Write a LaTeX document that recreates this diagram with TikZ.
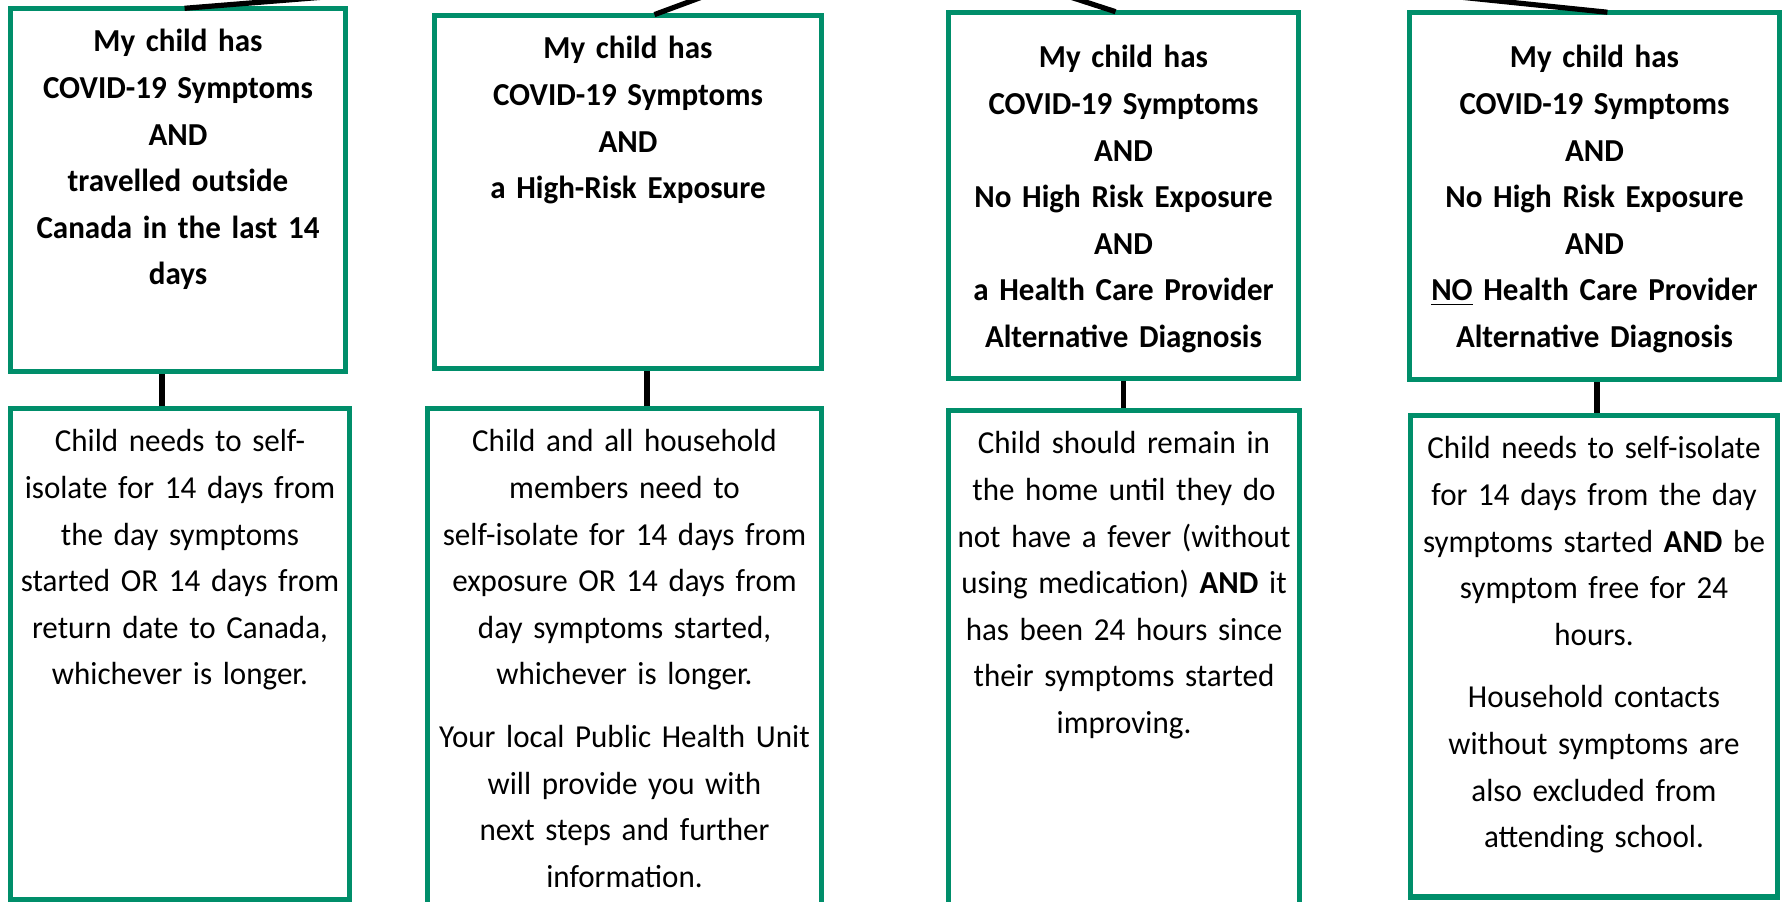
\documentclass[tikz,border=0pt]{standalone}
\usepackage{fontspec}
\setmainfont{Carlito}[FakeStretch=0.97]
\usepackage{tikz}
\usepackage{xcolor}
\definecolor{boxgreen}{RGB}{0,142,106}

\begin{document}
\begin{tikzpicture}[x=0.5pt,y=-0.5pt,
		box/.style={draw=boxgreen, line width=2.6pt, fill=white, anchor=north west, outer sep=0pt,
			inner xsep=0pt, inner ysep=8pt, align=center, text height=13.7pt,
			font=\fontsize{16pt}{23.3pt}\selectfont},
		cond/.style={box, font=\fontsize{16pt}{23.3pt}\selectfont\bfseries},
		link/.style={draw=black, line width=2.6pt, shorten <=1.3pt, shorten >=1.3pt}]
		\useasboundingbox (0,0) rectangle (1782,901);
		\clip (0,0) rectangle (1782,901); % Clips the picture to the page

		% Free ends of the lines coming from above
		\coordinate (Up1) at (536,-20);
		\coordinate (Up2) at (748,-20);
		\coordinate (Up3) at (1018,-20);
		\coordinate (Up4) at (1294,-20);

		% Conditions
		\node[cond, text width=167.5pt, text depth=151.8pt] (travel) at (10.5,8.5)
			{My child has\\ COVID-19 Symptoms\\ AND\\ travelled outside\\ Canada in the last 14\\ days};
		\node[cond, text width=193.5pt, text depth=146.8pt] (exposure) at (434.5,15.5)
			{My child has\\ COVID-19 Symptoms\\ AND\\ a High-Risk Exposure};
		\node[cond, text width=175pt, text height=19.7pt, text depth=147.3pt] (diagnosis) at (948.5,12.5)
			{My child has\\ COVID-19 Symptoms\\ AND\\ No High Risk Exposure\\ AND\\ a Health Care Provider\\ Alternative Diagnosis};
		\node[cond, text width=185pt, text height=19.7pt, text depth=147.8pt] (nodiagnosis) at (1409.5,12.5)
			{My child has\\ COVID-19 Symptoms\\ AND\\ No High Risk Exposure\\ AND\\ \underline{NO} Health Care Provider\\ Alternative Diagnosis};

		% What to do
		\node[box, text width=169.5pt, text depth=215.8pt] (isolate) at (10.5,408.5)
			{Child needs to self-\\ isolate for 14 days from\\ the day symptoms\\ started OR 14 days from\\ return date to Canada,\\ whichever is longer.};
		\node[box, text width=197pt, text depth=230.3pt] (household) at (427.5,408.5)
			{Child and all household\\ members need to\\ self-isolate for 14 days from\\ exposure OR 14 days from\\ day symptoms started,\\ whichever is longer.\\[8pt]
			Your local Public Health Unit\\ will provide you with\\ next steps and further\\ information.};
		\node[box, text width=175.5pt, text depth=230.3pt] (remain) at (948.5,410.5)
			{Child should remain in\\ the home until they do\\ not have a fever (without\\ using medication) \textbf{AND} it\\ has been 24 hours since\\ their symptoms started\\ improving.};
		\node[box, text width=183.5pt, text depth=211.05pt] (excluded) at (1410.5,415.5)
			{Child needs to self-isolate\\ for 14 days from the day\\ symptoms started \textbf{AND} be\\ symptom free for 24\\ hours.\\[8pt]
			Household contacts\\ without symptoms are\\ also excluded from\\ attending school.};

		\draw[link] ([xshift=2pt]travel.north) -- (Up1);
		\draw[link] ([xshift=12pt]exposure.north) -- (Up2);
		\draw[link] ([xshift=-2.75pt]diagnosis.north) -- (Up3);
		\draw[link] ([xshift=7.75pt]nodiagnosis.north) -- (Up4);

		\draw[link] ([xshift=-8pt]travel.south) -- ([xshift=-8pt]travel.south |- isolate.north);
		\draw[link] ([xshift=9.5pt]exposure.south) -- ([xshift=9.5pt]exposure.south |- household.north);
		\draw[link] (diagnosis.south) -- (diagnosis.south |- remain.north);
		\draw[link] ([xshift=1.25pt]nodiagnosis.south) -- ([xshift=1.25pt]nodiagnosis.south |- excluded.north);
	\end{tikzpicture}
\end{document}
